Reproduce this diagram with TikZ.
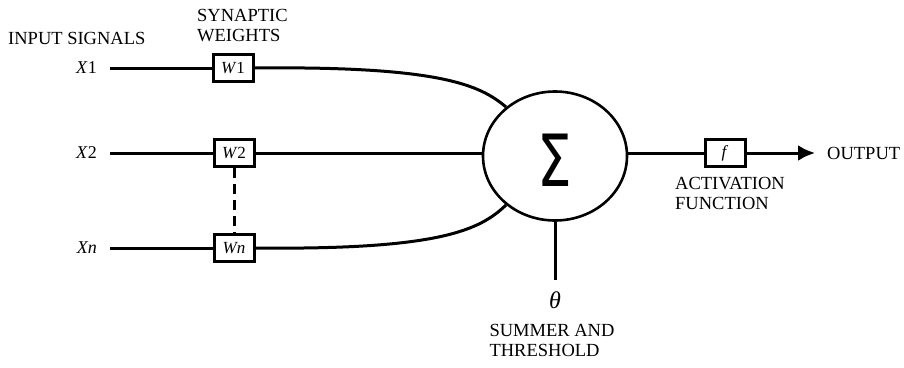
\documentclass[tikz,border=0pt]{standalone}
\usepackage{fontspec}
\setmainfont{Liberation Serif}
\newfontfamily\sigmafont{DejaVu Sans}
\usetikzlibrary{shapes.geometric,arrows.meta}
\begin{document}
\begin{tikzpicture}[x=1pt,y=-1pt,
  wire/.style={line width=3pt},
  wbox/.style={draw,line width=3pt,minimum width=40pt,minimum height=27pt,inner sep=0pt,font=\fontsize{17}{17}\selectfont,fill=white},
  captext/.style={font=\fontsize{18.5}{20}\selectfont,inner sep=0pt,align=left},
  inlab/.style={font=\fontsize{18}{18}\selectfont,inner sep=0pt}]
\useasboundingbox (0,0) rectangle (904,367);
% labels
\node[captext,anchor=west] (insig) at (8,38) {INPUT SIGNALS};
\node[captext,anchor=north west] (synw) at (197,9) {SYNAPTIC\\WEIGHTS};
% inputs
\node[inlab,anchor=east] (x1) at (97,68) {\textit{X}1};
\node[inlab,anchor=east] (x2) at (97,153) {\textit{X}2};
\node[inlab,anchor=east] (xn) at (97,248) {\textit{Xn}};
\coordinate (x1e) at (110,68);
\coordinate (x2e) at (110,153);
\coordinate (xne) at (110,248);
% boxes
\node[wbox] (w1) at (233,68) {\textit{W}1};
\node[wbox] (w2) at (234,153) {\textit{W}2};
\node[wbox] (wn) at (234,248) {\textit{Wn}};
% summer
\node[ellipse,draw,line width=2.6pt,minimum width=144pt,minimum height=129pt,inner sep=0pt] (sum) at (555,156) {};
\node[font=\sigmafont\fontsize{72}{72}\selectfont,xscale=0.76,inner sep=0pt] (sigma) at (555,160) {Σ};
% wires
\draw[wire] (x1e) -- (w1.west);
\draw[wire] (x2e) -- (w2.west);
\draw[wire] (xne) -- (wn.west);
\draw[wire,dash pattern=on 10pt off 6pt] (w2.south) -- (wn.north);
\draw[wire] (w1.east) .. controls (440,66) and (480,85) .. (sum.135);
\draw[wire] (w2.east) -- (sum.west |- w2.east);
\draw[wire] (wn.east) .. controls (440,250) and (480,230) .. (sum.225);
% threshold
\coordinate (thb) at (555,280);
\draw[wire] (sum.south) -- (thb);
\node[font=\itshape\fontsize{24}{24}\selectfont,inner sep=0pt] (theta) at (555,300) {θ};
\node[captext,anchor=north,align=left] (summ) at (552,324) {SUMMER AND\\THRESHOLD};
% output
\node[wbox] (f) at (725,153) {\textit{f}};
\coordinate (outend) at (815,153);
\draw[wire] (sum.east |- f.west) -- (f.west);
\draw[wire,-{Latex[length=17pt,width=16pt]}] (f.east) -- (outend);
\node[captext,anchor=west] (out) at (827,153) {OUTPUT};
\node[captext,anchor=north west] (act) at (675,177) {ACTIVATION\\FUNCTION};
\end{tikzpicture}
\end{document}
